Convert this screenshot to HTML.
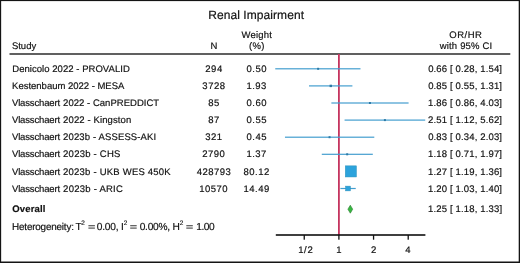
<!DOCTYPE html><html><head><meta charset="utf-8"><style>html,body{margin:0;padding:0;background:#fff}body{width:520px;height:263px;overflow:hidden;position:relative}svg{position:absolute;left:0;top:0;display:block;will-change:transform;text-rendering:geometricPrecision}text{font-family:"Liberation Sans",sans-serif;fill:#111;stroke:#111;stroke-width:0.18px}</style></head><body>
<svg width="520" height="263" viewBox="0 0 520 263">
<rect x="0" y="0" width="520" height="263" fill="#fff"/>
<rect x="9.5" y="53.2" width="500.8" height="1.6" fill="#3a3a3a"/>
<rect x="338.0" y="54" width="1.8" height="181" fill="#c5355f"/>
<rect x="275.25" y="68.20" width="85.24" height="1.2" fill="#449ecf"/>
<rect x="317.12" y="67.80" width="2.00" height="2.00" fill="#2d7aa6"/>
<rect x="309.01" y="85.30" width="43.39" height="1.2" fill="#449ecf"/>
<rect x="329.57" y="84.70" width="2.40" height="2.40" fill="#2d7aa6"/>
<rect x="331.36" y="102.40" width="77.23" height="1.2" fill="#449ecf"/>
<rect x="368.93" y="102.00" width="2.00" height="2.00" fill="#2d7aa6"/>
<rect x="344.57" y="119.50" width="80.65" height="1.2" fill="#449ecf"/>
<rect x="383.91" y="119.10" width="2.00" height="2.00" fill="#2d7aa6"/>
<rect x="284.96" y="136.60" width="89.34" height="1.2" fill="#449ecf"/>
<rect x="328.58" y="136.20" width="2.00" height="2.00" fill="#2d7aa6"/>
<rect x="321.78" y="153.70" width="51.03" height="1.2" fill="#449ecf"/>
<rect x="346.18" y="153.30" width="2.00" height="2.00" fill="#2d7aa6"/>
<rect x="347.60" y="170.80" width="6.68" height="1.2" fill="#449ecf"/>
<rect x="345.30" y="165.85" width="11.10" height="11.10" fill="#2ca3dc" stroke="#2a8fba" stroke-width="0.5"/>
<rect x="340.38" y="187.90" width="15.35" height="1.2" fill="#449ecf"/>
<rect x="345.66" y="186.14" width="4.72" height="4.72" fill="#2ca3dc" stroke="#2a8fba" stroke-width="0.5"/>
<polygon points="347.9,209.2 350.3,205.2 352.7,209.2 350.3,213.2" fill="#36b840" stroke="#2b7a30" stroke-width="0.6"/>
<rect x="275.8" y="234.2" width="149.6" height="1.6" fill="#111"/>
<rect x="303.59" y="235" width="1.3" height="4.7" fill="#111"/>
<rect x="338.25" y="235" width="1.3" height="4.7" fill="#111"/>
<rect x="372.91" y="235" width="1.3" height="4.7" fill="#111"/>
<rect x="407.56" y="235" width="1.3" height="4.7" fill="#111"/>
<rect x="88.4" y="225.1" width="6.5" height="1.2" fill="#555"/><rect x="88.4" y="227.5" width="6.5" height="1.2" fill="#555"/>
<rect x="130.2" y="225.1" width="6.5" height="1.2" fill="#555"/><rect x="130.2" y="227.5" width="6.5" height="1.2" fill="#555"/>
<rect x="186.3" y="225.1" width="6.5" height="1.2" fill="#555"/><rect x="186.3" y="227.5" width="6.5" height="1.2" fill="#555"/>
<text x="81.3" y="224.6" font-size="6.4">2</text>
<text x="123.8" y="224.6" font-size="6.4">2</text>
<text x="179.8" y="224.6" font-size="6.4">2</text>
<text x="208.26" y="18.80" font-size="12" textLength="95.71" lengthAdjust="spacing" xml:space="preserve">Renal Impairment</text>
<text x="11.89" y="48.80" font-size="9.5" textLength="24.27" lengthAdjust="spacing" xml:space="preserve">Study</text>
<text x="213.90" y="49.00" font-size="9.5" text-anchor="middle" xml:space="preserve">N</text>
<text x="241.53" y="37.90" font-size="9.5" textLength="30.29" lengthAdjust="spacing" xml:space="preserve">Weight</text>
<text x="248.93" y="48.60" font-size="9.5" textLength="15.60" lengthAdjust="spacing" xml:space="preserve">(%)</text>
<text x="449.32" y="37.60" font-size="9.5" textLength="32.66" lengthAdjust="spacing" xml:space="preserve">OR/HR</text>
<text x="439.70" y="48.60" font-size="9.5" textLength="52.50" lengthAdjust="spacing" xml:space="preserve">with 95% CI</text>
<text x="12.23" y="71.70" font-size="9.5" textLength="117.57" lengthAdjust="spacing" xml:space="preserve">Denicolo 2022 - PROVALID</text>
<text x="214.00" y="71.70" font-size="9.5" text-anchor="middle" letter-spacing="0.500" xml:space="preserve">294</text>
<text x="256.77" y="71.70" font-size="9.5" text-anchor="middle" letter-spacing="0.500" xml:space="preserve">0.50</text>
<text x="428.15" y="71.70" font-size="9.5" textLength="73.86" lengthAdjust="spacing" xml:space="preserve">0.66 [ 0.28, 1.54]</text>
<text x="12.11" y="88.85" font-size="9.5" textLength="112.23" lengthAdjust="spacing" xml:space="preserve">Kestenbaum 2022 - MESA</text>
<text x="213.93" y="88.85" font-size="9.5" text-anchor="middle" letter-spacing="0.500" xml:space="preserve">3728</text>
<text x="256.64" y="88.85" font-size="9.5" text-anchor="middle" letter-spacing="0.500" xml:space="preserve">1.93</text>
<text x="428.15" y="88.85" font-size="9.5" textLength="73.86" lengthAdjust="spacing" xml:space="preserve">0.85 [ 0.55, 1.31]</text>
<text x="11.95" y="106.00" font-size="9.5" textLength="48.10" lengthAdjust="spacing" xml:space="preserve">Vlasschaert</text>
<text x="63.10" y="106.00" font-size="9.5" textLength="96.08" lengthAdjust="spacing" xml:space="preserve">2022 - CanPREDDICT</text>
<text x="213.94" y="106.00" font-size="9.5" text-anchor="middle" letter-spacing="0.500" xml:space="preserve">85</text>
<text x="256.77" y="106.00" font-size="9.5" text-anchor="middle" letter-spacing="0.500" xml:space="preserve">0.60</text>
<text x="427.94" y="106.00" font-size="9.5" textLength="74.07" lengthAdjust="spacing" xml:space="preserve">1.86 [ 0.86, 4.03]</text>
<text x="11.95" y="123.15" font-size="9.5" textLength="48.10" lengthAdjust="spacing" xml:space="preserve">Vlasschaert</text>
<text x="63.10" y="123.15" font-size="9.5" textLength="68.19" lengthAdjust="spacing" xml:space="preserve">2022 - Kingston</text>
<text x="214.00" y="123.15" font-size="9.5" text-anchor="middle" letter-spacing="0.500" xml:space="preserve">87</text>
<text x="256.81" y="123.15" font-size="9.5" text-anchor="middle" letter-spacing="0.500" xml:space="preserve">0.55</text>
<text x="428.06" y="123.15" font-size="9.5" textLength="73.95" lengthAdjust="spacing" xml:space="preserve">2.51 [ 1.12, 5.62]</text>
<text x="11.95" y="140.30" font-size="9.5" textLength="48.10" lengthAdjust="spacing" xml:space="preserve">Vlasschaert</text>
<text x="63.10" y="140.30" font-size="9.5" textLength="93.09" lengthAdjust="spacing" xml:space="preserve">2023b - ASSESS-AKI</text>
<text x="213.97" y="140.30" font-size="9.5" text-anchor="middle" letter-spacing="0.500" xml:space="preserve">321</text>
<text x="256.81" y="140.30" font-size="9.5" text-anchor="middle" letter-spacing="0.500" xml:space="preserve">0.45</text>
<text x="428.15" y="140.30" font-size="9.5" textLength="73.86" lengthAdjust="spacing" xml:space="preserve">0.83 [ 0.34, 2.03]</text>
<text x="11.95" y="157.45" font-size="9.5" textLength="48.10" lengthAdjust="spacing" xml:space="preserve">Vlasschaert</text>
<text x="63.10" y="157.45" font-size="9.5" textLength="57.24" lengthAdjust="spacing" xml:space="preserve">2023b - CHS</text>
<text x="213.74" y="157.45" font-size="9.5" text-anchor="middle" letter-spacing="0.500" xml:space="preserve">2790</text>
<text x="256.66" y="157.45" font-size="9.5" text-anchor="middle" letter-spacing="0.500" xml:space="preserve">1.37</text>
<text x="427.94" y="157.45" font-size="9.5" textLength="74.07" lengthAdjust="spacing" xml:space="preserve">1.18 [ 0.71, 1.97]</text>
<text x="11.95" y="174.60" font-size="9.5" textLength="48.10" lengthAdjust="spacing" xml:space="preserve">Vlasschaert</text>
<text x="63.10" y="174.60" font-size="9.5" textLength="107.57" lengthAdjust="spacing" xml:space="preserve">2023b - UKB WES 450K</text>
<text x="214.00" y="174.60" font-size="9.5" text-anchor="middle" letter-spacing="0.500" xml:space="preserve">428793</text>
<text x="256.69" y="174.60" font-size="9.5" text-anchor="middle" letter-spacing="0.500" xml:space="preserve">80.12</text>
<text x="427.94" y="174.60" font-size="9.5" textLength="74.07" lengthAdjust="spacing" xml:space="preserve">1.27 [ 1.19, 1.36]</text>
<text x="11.95" y="191.75" font-size="9.5" textLength="48.10" lengthAdjust="spacing" xml:space="preserve">Vlasschaert</text>
<text x="63.10" y="191.75" font-size="9.5" textLength="59.77" lengthAdjust="spacing" xml:space="preserve">2023b - ARIC</text>
<text x="213.60" y="191.75" font-size="9.5" text-anchor="middle" letter-spacing="0.500" xml:space="preserve">10570</text>
<text x="256.57" y="191.75" font-size="9.5" text-anchor="middle" letter-spacing="0.500" xml:space="preserve">14.49</text>
<text x="427.94" y="191.75" font-size="9.5" textLength="74.07" lengthAdjust="spacing" xml:space="preserve">1.20 [ 1.03, 1.40]</text>
<text x="12.31" y="211.90" font-size="9.5" font-weight="bold" textLength="33.20" lengthAdjust="spacing" xml:space="preserve">Overall</text>
<text x="427.94" y="212.20" font-size="9.5" textLength="74.22" lengthAdjust="spacing" xml:space="preserve">1.25 [ 1.18, 1.33]</text>
<text x="12.07" y="229.70" font-size="9.9" textLength="61.86" lengthAdjust="spacing" xml:space="preserve">Heterogeneity:</text>
<text x="78.61" y="229.70" font-size="10.2" text-anchor="middle" xml:space="preserve">T</text>
<text x="96.82" y="229.70" font-size="10.2" textLength="26.97" lengthAdjust="spacing" xml:space="preserve">0.00, I</text>
<text x="139.65" y="229.70" font-size="10.2" textLength="40.10" lengthAdjust="spacing" xml:space="preserve">0.00%, H</text>
<text x="196.19" y="229.70" font-size="10.2" textLength="18.46" lengthAdjust="spacing" xml:space="preserve">1.00</text>
<text x="305.44" y="253.20" font-size="9.5" text-anchor="middle" textLength="14.56" lengthAdjust="spacing" xml:space="preserve">1/2</text>
<text x="338.85" y="253.20" font-size="9.5" text-anchor="middle" xml:space="preserve">1</text>
<text x="373.55" y="253.20" font-size="9.5" text-anchor="middle" xml:space="preserve">2</text>
<text x="407.93" y="253.20" font-size="9.5" text-anchor="middle" xml:space="preserve">4</text>
<rect x="0" y="0" width="520" height="1.1" fill="#141414"/><rect x="0" y="0" width="1.15" height="263" fill="#141414"/><rect x="518.7" y="0" width="1.3" height="263" fill="#141414"/><rect x="0" y="261.5" width="520" height="1.5" fill="#141414"/>
</svg>
</body></html>
